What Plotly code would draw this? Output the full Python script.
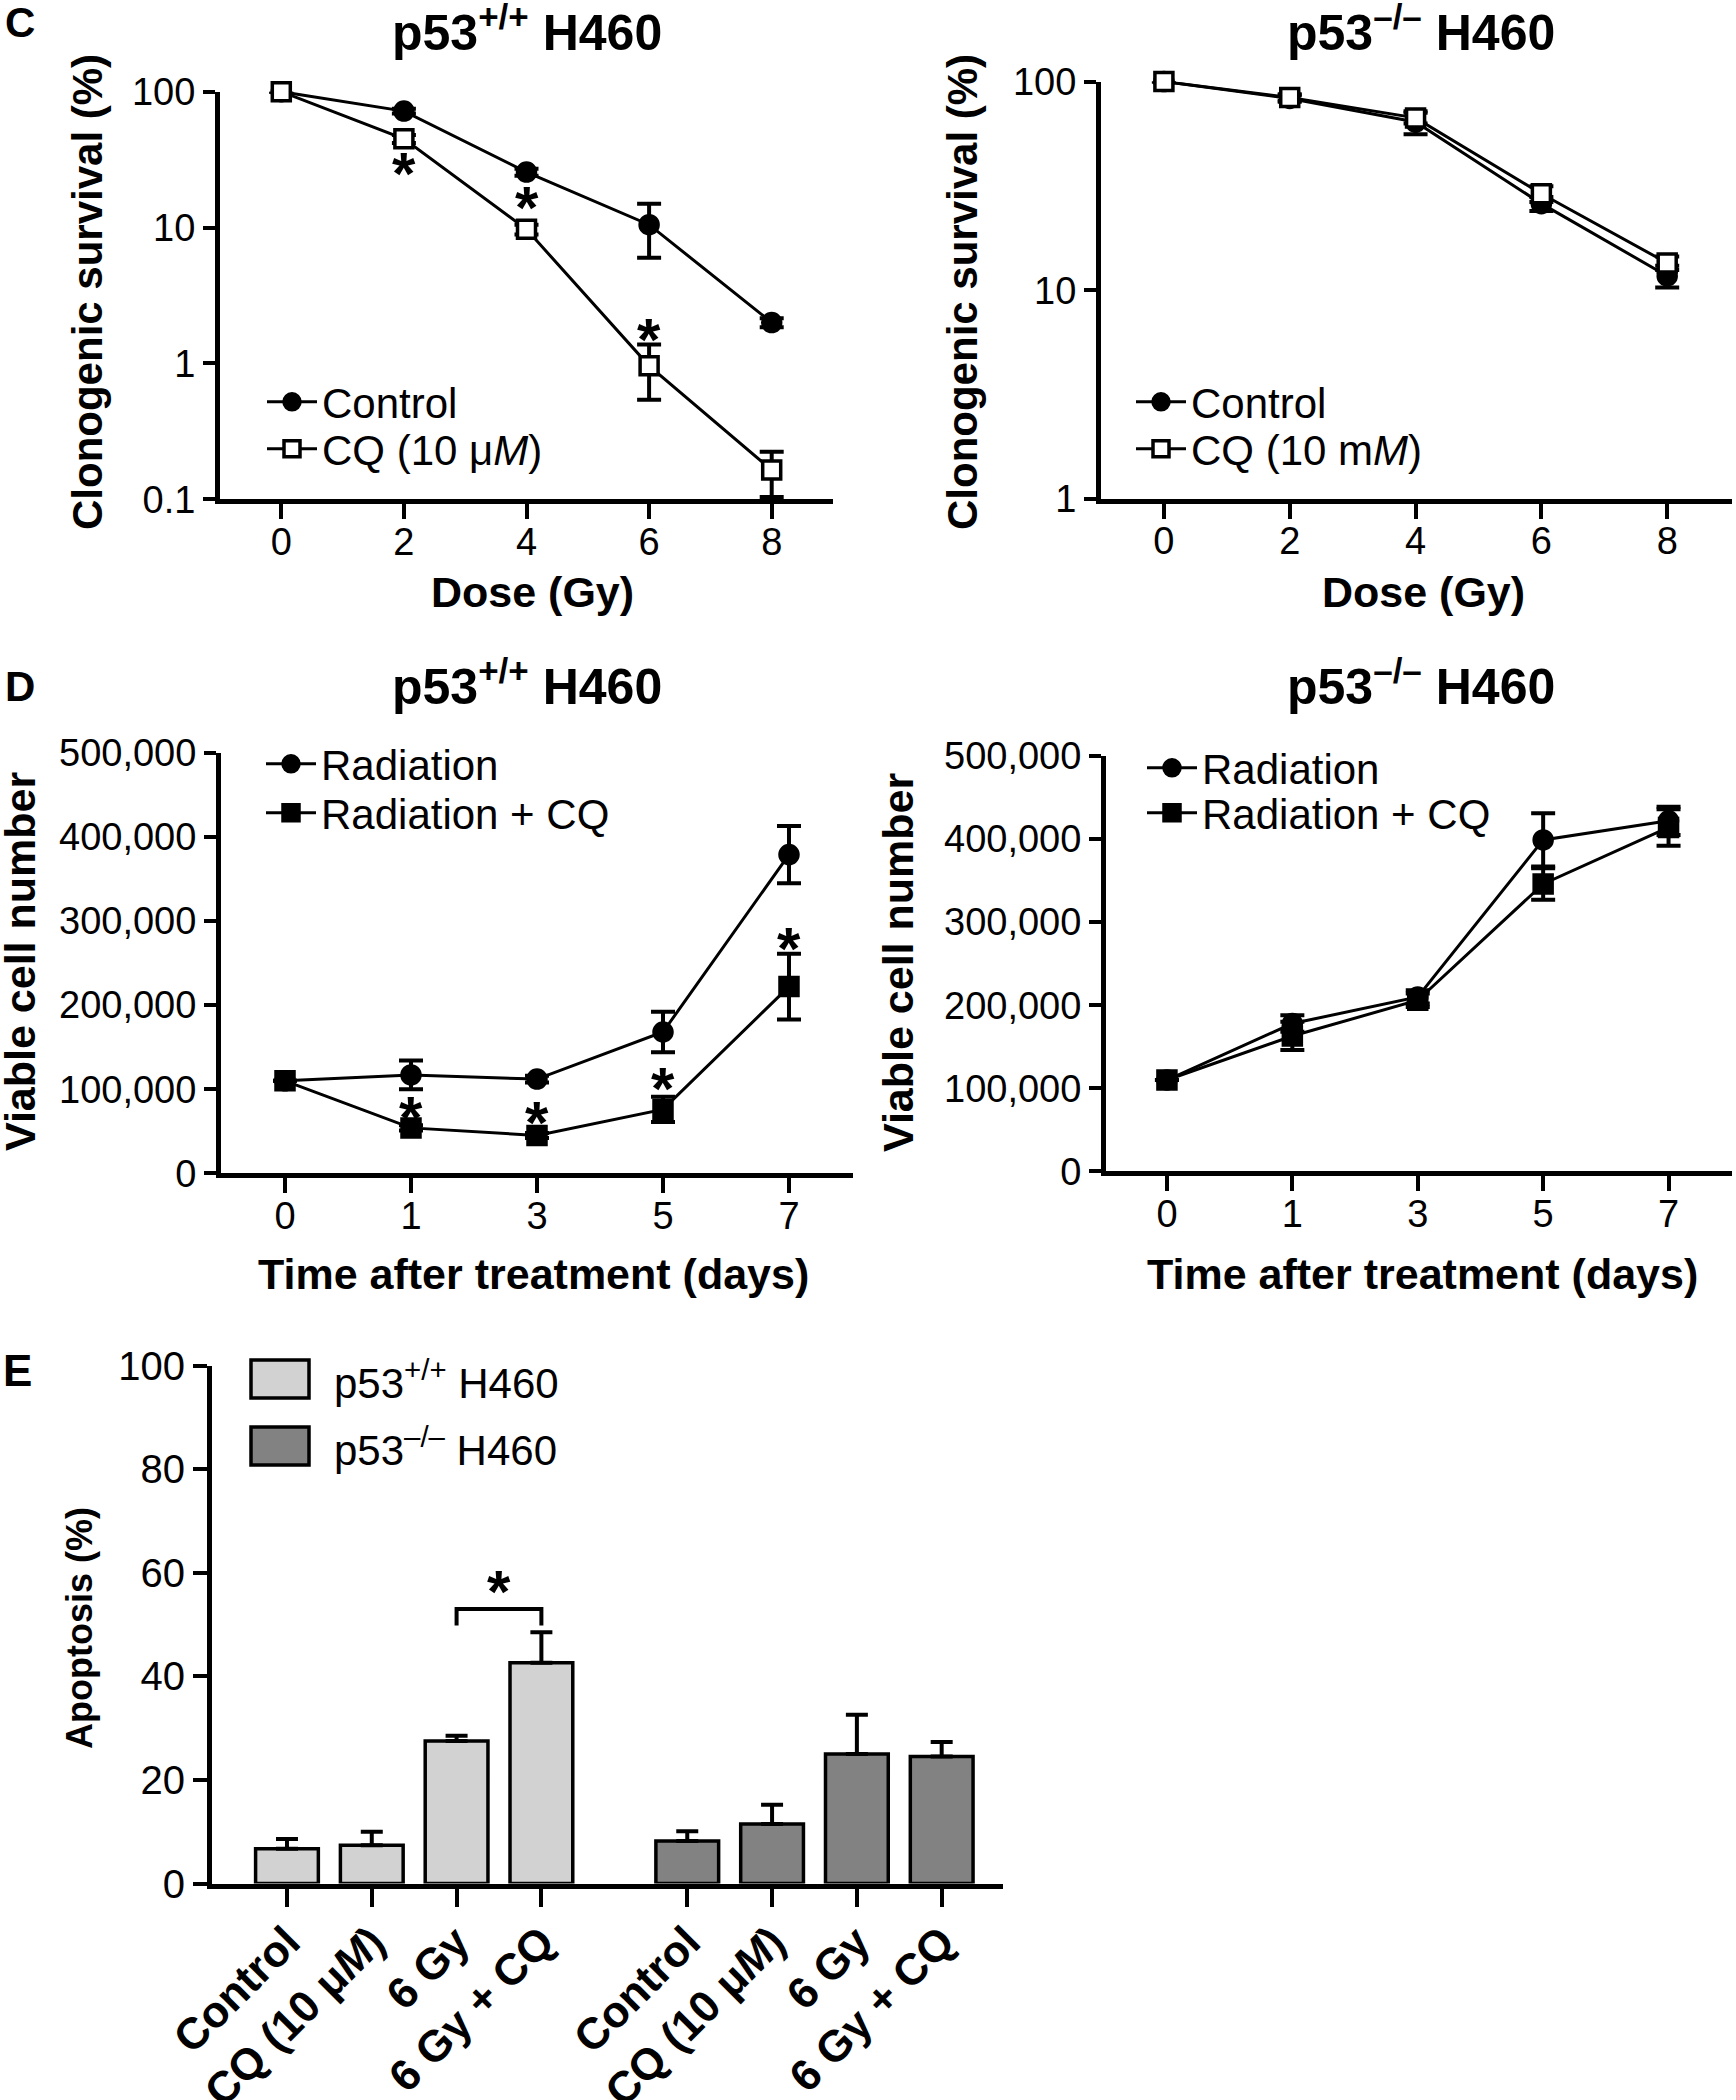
import numpy as np
import plotly.graph_objects as go

W, H = 1736, 2100
FONT = "Liberation Sans, Arial, Helvetica, sans-serif"

# ---------------- Panel C : clonogenic survival ----------------
dose = [0, 2, 4, 6, 8]
c_wt_control = [100, 72, 25.6, 10.5, 2.0]
c_wt_control_sem = [0, 3, 1.5, 4.5, 0.15]
c_wt_cq = [100, 45, 9.7, 0.96, 0.164]
c_wt_cq_sem = [0, 3, 0.8, 0.42, 0.06]
c_wt_sig_dose = [2, 4, 6]
c_wt_sig_y = [27.9, 15.5, 1.67]

c_ko_control = [100, 83, 64, 26, 11.7]
c_ko_control_sem = [0, 3, 8, 2, 1.4]
c_ko_cq = [100, 84, 67, 29, 13.5]
c_ko_cq_sem = [0, 3, 4, 2.5, 1.0]

c_yticks = [0.1, 1, 10, 100]
c_yticktext = ["0.1", "1", "10", "100"]

# ---------------- Panel D : viable cell number ----------------
days = ["0", "1", "3", "5", "7"]
d_wt_rad = [110000, 117000, 112000, 168000, 379000]
d_wt_rad_sem = [0, 17000, 4000, 24000, 34000]
d_wt_radcq = [110000, 54000, 45000, 76000, 222000]
d_wt_radcq_sem = [0, 3000, 3000, 15000, 39000]
d_wt_sig_idx = [1, 2, 3, 4]
d_wt_sig_y = [74000, 67000, 108000, 275000]

d_ko_rad = [110000, 178000, 210000, 399000, 422000]
d_ko_rad_sem = [0, 10000, 8000, 32000, 17000]
d_ko_radcq = [110000, 163000, 206000, 346000, 414000]
d_ko_radcq_sem = [0, 17000, 8000, 19000, 22000]

# ---------------- Panel E : apoptosis ----------------
e_labels = ["Control", "CQ (10 μ<i>M</i>)", "6 Gy", "6 Gy + CQ"]
e_wt = [6.7, 7.4, 27.5, 42.6]
e_wt_sem = [1.9, 2.6, 1.0, 5.9]
e_ko = [8.2, 11.5, 25.0, 24.5]
e_ko_sem = [1.9, 3.7, 7.6, 2.8]
e_groups = ["p53<sup>+/+</sup> H460", "p53<sup>–/–</sup> H460"]
e_colors = ["#d2d2d2", "#828282"]
e_sig_pair = [2, 3]
e_sig_y = 53


def px_x(p):
    return p / W


def px_y(p):
    return 1 - p / H


fig = go.Figure()

axis_common = dict(
    showline=True, linecolor="black", linewidth=5, ticks="outside",
    tickwidth=4, tickcolor="black", showgrid=False, zeroline=False,
    tickfont=dict(family=FONT, size=38, color="black"), mirror=False,
    automargin=False,
)


def line_trace(x, y, sem, name, symbol, fill, xa, ya, legend):
    return go.Scatter(
        x=x, y=y, name=name, mode="lines+markers", xaxis=xa, yaxis=ya,
        legend=legend, cliponaxis=False,
        line=dict(color="black", width=3),
        marker=dict(symbol=symbol, size=18, color=fill,
                    line=dict(color="black", width=3.5)),
        error_y=dict(type="data", array=sem, visible=True, color="black",
                     thickness=4, width=12),
        hoverinfo="x+y",
    )


# Panel C traces
fig.add_trace(line_trace(dose, c_wt_control, c_wt_control_sem, "Control", "circle", "black", "x", "y", "legend"))
fig.add_trace(line_trace(dose, c_wt_cq, c_wt_cq_sem, "CQ (10 μ<i>M</i>)", "square", "white", "x", "y", "legend2"))
fig.add_trace(line_trace(dose, c_ko_control, c_ko_control_sem, "Control", "circle", "black", "x2", "y2", "legend3"))
fig.add_trace(line_trace(dose, c_ko_cq, c_ko_cq_sem, "CQ (10 m<i>M</i>)", "square", "white", "x2", "y2", "legend4"))

# Panel D traces
fig.add_trace(line_trace(days, d_wt_rad, d_wt_rad_sem, "Radiation", "circle", "black", "x3", "y3", "legend5"))
fig.add_trace(line_trace(days, d_wt_radcq, d_wt_radcq_sem, "Radiation + CQ", "square", "black", "x3", "y3", "legend6"))
fig.add_trace(line_trace(days, d_ko_rad, d_ko_rad_sem, "Radiation", "circle", "black", "x4", "y4", "legend7"))
fig.add_trace(line_trace(days, d_ko_radcq, d_ko_radcq_sem, "Radiation + CQ", "square", "black", "x4", "y4", "legend8"))

# Panel E bars
group_step = 4.72
e_pos_all = []
for g, (vals, sems) in enumerate([(e_wt, e_wt_sem), (e_ko, e_ko_sem)]):
    pos = [i + g * group_step for i in range(len(vals))]
    e_pos_all += pos
    fig.add_trace(go.Bar(
        x=pos, y=vals, name=e_groups[g], width=0.74, xaxis="x5", yaxis="y5",
        marker=dict(color=e_colors[g], line=dict(color="black", width=3.5)),
        error_y=dict(type="data", array=sems, arrayminus=[0] * len(sems),
                     symmetric=False, color="black", thickness=4, width=11),
        showlegend=False,
    ))

# significance bracket in E
sx0, sx1 = e_sig_pair
fig.add_trace(go.Scatter(
    x=[sx0, sx0, sx1, sx1], y=[e_sig_y - 3.2, e_sig_y, e_sig_y, e_sig_y - 3.2],
    mode="lines", line=dict(color="black", width=4), xaxis="x5", yaxis="y5",
    showlegend=False, hoverinfo="skip", cliponaxis=False,
))

# ---------------- axes ----------------
layout = dict(
    width=W, height=H, margin=dict(l=0, r=0, t=0, b=0, autoexpand=False),
    paper_bgcolor="white", plot_bgcolor="white", showlegend=True,
    font=dict(family=FONT, color="black"), barmode="overlay",
)
xstand = -10
# C left
layout["xaxis"] = dict(axis_common, domain=[px_x(220), px_x(833)], range=[-1, 9.0],
                       tickvals=dose, ticklen=15, anchor="y", ticklabelstandoff=xstand)
layout["yaxis"] = dict(axis_common, domain=[px_y(499.3), px_y(91.7)], type="log",
                       range=[-1, 2], tickvals=c_yticks, ticktext=c_yticktext,
                       ticklen=12, anchor="x")
# C right
layout["xaxis2"] = dict(axis_common, domain=[px_x(1101), px_x(1732)], range=[-1, 9.03],
                        tickvals=dose, ticklen=15, anchor="y2", ticklabelstandoff=xstand)
layout["yaxis2"] = dict(axis_common, domain=[px_y(498.8), px_y(81.6)], type="log",
                        range=[0, 2], tickvals=c_yticks[1:], ticktext=c_yticktext[1:],
                        ticklen=12, anchor="x2")
# D left
layout["xaxis3"] = dict(axis_common, domain=[px_x(221), px_x(853)], type="category",
                        range=[-0.508, 4.508], ticklen=15, anchor="y3",
                        ticklabelstandoff=xstand)
layout["yaxis3"] = dict(axis_common, domain=[px_y(1173.3), px_y(752.8)], range=[0, 500000],
                        dtick=100000, tickformat=",", ticklen=12, anchor="x3")
# D right
layout["xaxis4"] = dict(axis_common, domain=[px_x(1106), px_x(1732)], type="category",
                        range=[-0.486, 4.506], ticklen=15, anchor="y4",
                        ticklabelstandoff=xstand)
layout["yaxis4"] = dict(axis_common, domain=[px_y(1171.4), px_y(756)], range=[0, 500000],
                        dtick=100000, tickformat=",", ticklen=12, anchor="x4")
# E
layout["xaxis5"] = dict(axis_common, domain=[px_x(212), px_x(1003)], range=[-0.884, 8.443],
                        tickvals=e_pos_all, ticktext=e_labels * 2, tickangle=-45,
                        ticklen=18, anchor="y5", ticklabelstandoff=-8,
                        tickfont=dict(family=FONT, size=44, color="black", weight="bold"))
layout["yaxis5"] = dict(axis_common, domain=[px_y(1883.5), px_y(1365.5)], range=[0, 100],
                        dtick=20, ticklen=14, anchor="x5",
                        tickfont=dict(family=FONT, size=40, color="black"))

# legends: one entry each, placed at the reference positions
leg_common = dict(xanchor="left", yanchor="top", bgcolor="rgba(0,0,0,0)",
                  font=dict(family=FONT, size=42, color="black"),
                  itemwidth=50, tracegroupgap=0)
leg_pos = {
    "legend": (262, 368), "legend2": (262, 415),
    "legend3": (1131, 368), "legend4": (1131, 415),
    "legend5": (261, 730), "legend6": (261, 779),
    "legend7": (1142, 734), "legend8": (1142, 779),
}
for key, (lx, ly) in leg_pos.items():
    layout[key] = dict(leg_common, x=px_x(lx), y=px_y(ly))

fig.update_layout(**layout)

# ---------------- annotations ----------------
ann = []


def txt(x, y, text, size, bold=False, angle=0, xanchor="center", yanchor="middle"):
    ann.append(dict(x=px_x(x), y=px_y(y), xref="paper", yref="paper", text=text,
                    showarrow=False, textangle=angle, xanchor=xanchor, yanchor=yanchor,
                    font=dict(family=FONT, size=size, color="black",
                              weight="bold" if bold else "normal")))


# panel letters
txt(3, 22, "C", 42, True, xanchor="left")
txt(3, 686, "D", 42, True, xanchor="left")
txt(1, 1370, "E", 44, True, xanchor="left")
# titles
txt(527, 29, "p53<sup>+/+</sup> H460", 50, True)
txt(1421, 29, "p53<sup>–/–</sup> H460", 50, True)
txt(527, 683, "p53<sup>+/+</sup> H460", 50, True)
txt(1421, 683, "p53<sup>–/–</sup> H460", 50, True)
# axis titles
txt(87, 292, "Clonogenic survival (%)", 42, True, angle=-90)
txt(962, 292, "Clonogenic survival (%)", 42, True, angle=-90)
txt(20, 962, "Viable cell number", 43, True, angle=-90)
txt(898, 962, "Viable cell number", 43, True, angle=-90)
txt(79, 1628, "Apoptosis (%)", 36, True, angle=-90)
txt(532, 592, "Dose (Gy)", 43, True)
txt(1423, 592, "Dose (Gy)", 43, True)
txt(533, 1274, "Time after treatment (days)", 43, True)
txt(1422, 1274, "Time after treatment (days)", 43, True)

# E legend (manual swatches)
shapes = []
for g in range(2):
    y0 = [1360, 1427][g]
    shapes.append(dict(type="rect", xref="paper", yref="paper",
                       x0=px_x(251), x1=px_x(309), y0=px_y(y0), y1=px_y(y0 + 38),
                       fillcolor=e_colors[g], line=dict(color="black", width=3.5)))
    txt(332, y0 + 20, e_groups[g], 42, False, xanchor="left")

# significance asterisks
star = dict(showarrow=False, text="<b>*</b>", font=dict(family=FONT, size=60, color="black"),
            yshift=-6)
for xd, yv in zip(c_wt_sig_dose, c_wt_sig_y):
    ann.append(dict(star, x=xd, y=np.log10(yv), xref="x", yref="y"))
for xi, yv in zip(d_wt_sig_idx, d_wt_sig_y):
    ann.append(dict(star, x=xi, y=yv, xref="x3", yref="y3"))
ann.append(dict(star, x=(sx0 + sx1) / 2, y=e_sig_y + 4.5, xref="x5", yref="y5"))

fig.update_layout(annotations=ann, shapes=shapes)

fig.write_html("out.html", config={"displayModeBar": False},
               post_script="document.body.style.margin='0px';document.body.style.padding='0px';")
